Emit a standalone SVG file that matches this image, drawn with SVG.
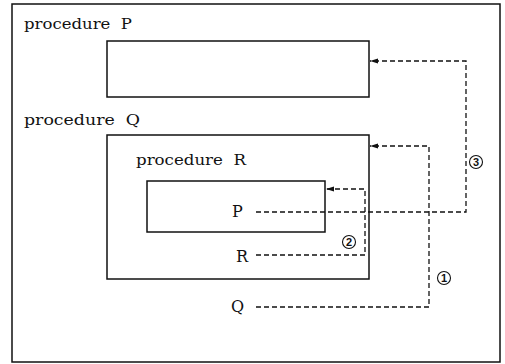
<svg xmlns="http://www.w3.org/2000/svg" width="505" height="364" viewBox="0 0 505 364">
<defs>
<style>
.box{fill:none;stroke:#111;stroke-width:1.5}
.lbl{font-family:"DejaVu Serif",serif;font-size:15px;fill:#111;white-space:pre}
.var{font-family:"DejaVu Serif",serif;font-size:16px;fill:#111}
.con{fill:none;stroke:#111;stroke-width:1.3;stroke-dasharray:5 3}
.num circle{fill:none;stroke:#111;stroke-width:1.1}
.num text{font-family:"Liberation Sans",sans-serif;font-size:11px;font-weight:bold;fill:#111;text-anchor:middle}
</style>
<marker id="ah" markerWidth="8" markerHeight="6" refX="8" refY="3" orient="auto" markerUnits="userSpaceOnUse">
<path d="M0,0.5 L8,3 L0,5.5 z" fill="#111"/>
</marker>
</defs>
<rect width="505" height="364" fill="#fff"/>
<rect class="box" x="12" y="4" width="488" height="358"/>
<g id="procP">
<text class="lbl" x="24" y="29" textLength="108" lengthAdjust="spacingAndGlyphs">procedure  P</text>
<rect class="box" x="107" y="41" width="262" height="56"/>
</g>
<g id="procQ">
<text class="lbl" x="24" y="125" textLength="116" lengthAdjust="spacingAndGlyphs">procedure  Q</text>
<rect class="box" x="107" y="135" width="262" height="144"/>
</g>
<g id="procR">
<text class="lbl" x="136" y="165" textLength="110" lengthAdjust="spacingAndGlyphs">procedure  R</text>
<rect class="box" x="147" y="181" width="178" height="51"/>
</g>
<g id="callP"><text class="var" x="232" y="217">P</text></g>
<g id="callR"><text class="var" x="236" y="262">R</text></g>
<g id="callQ"><text class="var" x="231" y="312">Q</text></g>
<g id="connectors">
<path class="con" d="M256,212 H466 V61 H370" marker-end="url(#ah)"/>
<path class="con" d="M256,255 H365 V189 H326" marker-end="url(#ah)"/>
<path class="con" d="M256,307 H429 V146 H370" marker-end="url(#ah)"/>
</g>
<g class="num" id="n3"><circle cx="476" cy="162" r="6.5"/><text x="476" y="166">3</text></g>
<g class="num" id="n2"><circle cx="349" cy="242" r="6.5"/><text x="349" y="246">2</text></g>
<g class="num" id="n1"><circle cx="444" cy="278" r="6.5"/><text x="444" y="282">1</text></g>
</svg>
